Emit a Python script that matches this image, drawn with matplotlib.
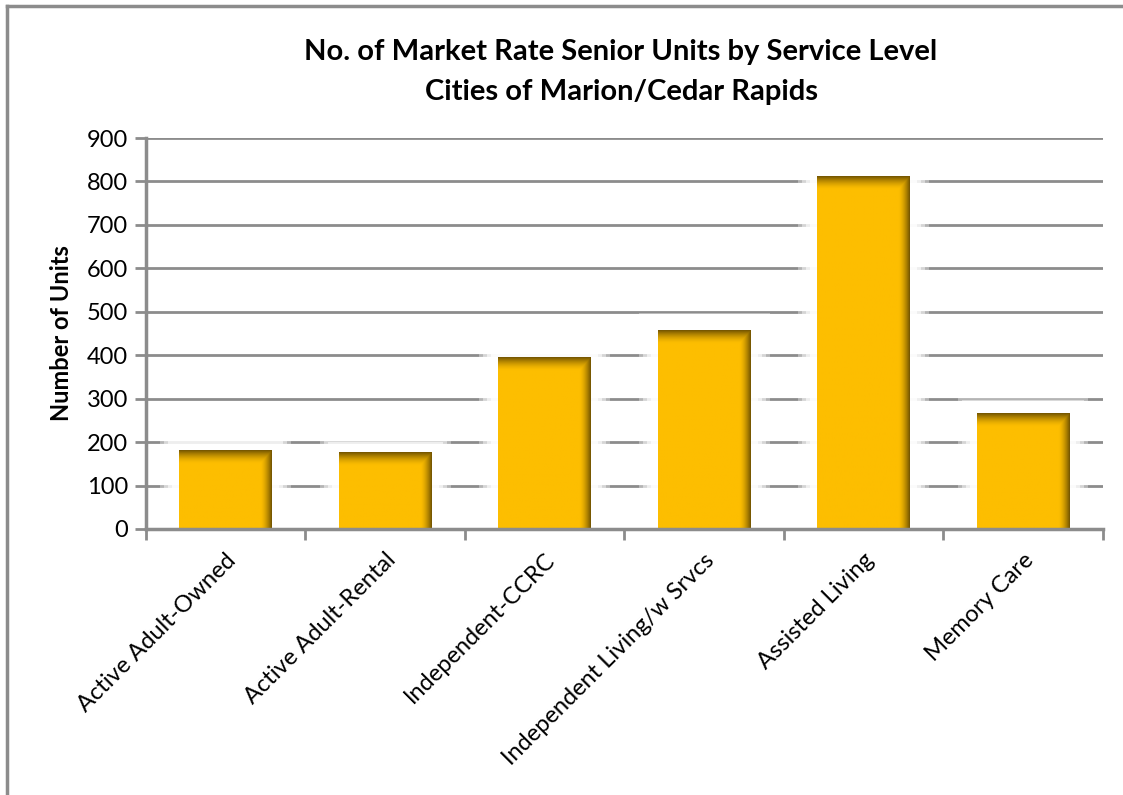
import numpy as np
import matplotlib.pyplot as plt
from matplotlib.patches import Rectangle
from matplotlib.lines import Line2D

categories = ['Active Adult-Owned', 'Active Adult-Rental', 'Independent-CCRC',
              'Independent Living/w Srvcs', 'Assisted Living', 'Memory Care']
units = [180, 177, 395, 457, 811, 265]
yticks = [0, 100, 200, 300, 400, 500, 600, 700, 800, 900]

plt.rcParams['font.family'] = ['Lato', 'DejaVu Sans']

fig = plt.figure(figsize=(11.23, 7.95), dpi=100)
ax = fig.add_axes([0.130, 0.3346, 0.852, 0.4918])

gray = '#8c8c8c'
base = np.array([253, 190, 0]) / 255.0
shade = np.array([120, 88, 0]) / 255.0
width = 0.58

x = np.arange(len(categories))

for yv in yticks[1:]:
    ax.axhline(yv, color=gray, lw=2, zorder=1)

# soft white glow around each bar that fades the gridlines
for xi, h in zip(x, units):
    for k, a in enumerate([0.35, 0.45, 0.6, 0.8]):
        pad_x = 0.12 - k * 0.025
        pad_y = 40 - k * 8
        ax.add_patch(Rectangle((xi - width / 2 - pad_x, 0), width + 2 * pad_x, h + pad_y,
                               facecolor='white', edgecolor='none', alpha=a, zorder=2))

# bars with an inner shadow along the top and right edges
px_x = 159.5   # pixels per category
px_y = 391 / 900
for xi, h in zip(x, units):
    ncol = int(width * px_x)
    nrow = int(h * px_y)
    cols = np.arange(ncol)
    rows = np.arange(nrow)
    right = np.clip(1 - (ncol - 1 - cols) / 11.0, 0, 1) ** 1.6
    top = np.clip(1 - rows / 13.0, 0, 1) ** 1.6
    f = np.maximum(top[:, None], right[None, :])
    img = base[None, None, :] * (1 - f[..., None]) + shade[None, None, :] * f[..., None]
    ax.imshow(img, extent=(xi - width / 2, xi + width / 2, 0, h), origin='upper',
              aspect='auto', interpolation='bilinear', zorder=3)
ax.set_xlim(-0.5, len(categories) - 0.5)
ax.set_ylim(0, 900)

for s in ['top', 'right']:
    ax.spines[s].set_visible(False)
for s in ['left', 'bottom']:
    ax.spines[s].set_color(gray)
    ax.spines[s].set_linewidth(2.5)
    ax.spines[s].set_zorder(4)

ax.set_yticks(yticks)
ax.set_yticklabels([str(v) for v in yticks], fontsize=17)
ax.tick_params(axis='y', length=8, width=2, color=gray, pad=5)

ax.set_xticks(np.arange(len(categories) + 1) - 0.5)
ax.set_xticklabels([])
ax.tick_params(axis='x', length=8, width=2, color=gray)
for xi, name in zip(x, categories):
    ax.annotate(name, xy=(xi, 0), xycoords=('data', 'data'), xytext=(5, -20),
                textcoords='offset points', rotation=45, ha='right', va='center',
                rotation_mode='anchor', fontsize=17)

ax.set_ylabel('Number of Units', fontsize=17, fontweight='bold', labelpad=10)

fig.text(0.553, 0.934, 'No. of Market Rate Senior Units by Service Level',
         ha='center', va='center', fontsize=21, fontweight='bold')
fig.text(0.553, 0.884, 'Cities of Marion/Cedar Rapids',
         ha='center', va='center', fontsize=21, fontweight='bold')

# chart area border (left and top edges)
fig.add_artist(Line2D([0.0065, 0.0065], [0.0, 0.9925], color=gray, lw=2.5,
                      transform=fig.transFigure))
fig.add_artist(Line2D([0.0065, 1.0], [0.9925, 0.9925], color=gray, lw=2.5,
                      transform=fig.transFigure))

fig.savefig('out.png', dpi=100)
